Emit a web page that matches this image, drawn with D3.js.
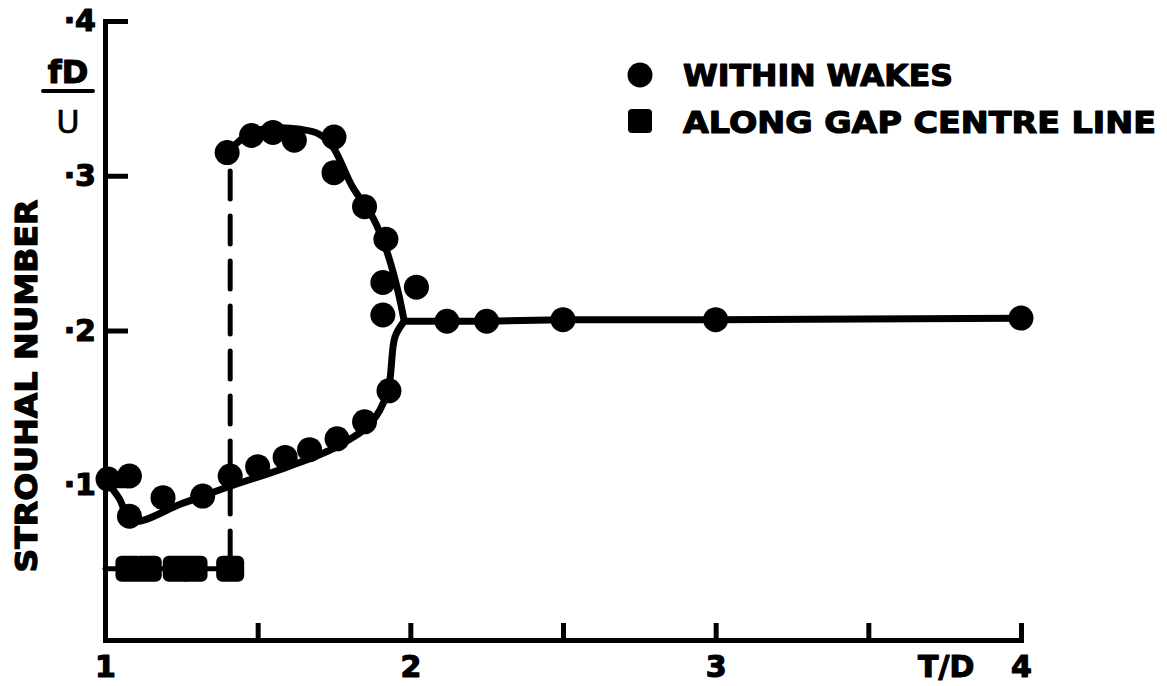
<!DOCTYPE html>
<html>
<head>
<meta charset="utf-8">
<script src="https://cdn.jsdelivr.net/npm/d3@7/dist/d3.min.js"></script>
<style>
  body { margin: 0; background: #fff; }
  svg text { font-family: "DejaVu Sans", sans-serif; font-weight: bold; fill: #000; stroke: #000; stroke-width: 1.2px; stroke-linejoin: round; }
</style>
</head>
<body>
<div id="chart"></div>
<script>
// T/D (x) against Strouhal number fD/U (y)
const xTicks = [1, 1.5, 2, 2.5, 3, 3.5, 4];
const yTicks = [0.1, 0.2, 0.3, 0.4];

// measured points "within wakes" (circles)
const wakeLowerPts = [
  [1.01, 0.104], [1.08, 0.106], [1.08, 0.080], [1.19, 0.092], [1.32, 0.093],
  [1.41, 0.106], [1.50, 0.112], [1.59, 0.118], [1.67, 0.123], [1.76, 0.130],
  [1.85, 0.141], [1.93, 0.161]
];
const wakeUpperPts = [
  [1.40, 0.315], [1.48, 0.326], [1.55, 0.328], [1.62, 0.323], [1.75, 0.325],
  [1.75, 0.302], [1.85, 0.280], [1.92, 0.259], [1.91, 0.231], [1.91, 0.210],
  [2.02, 0.228]
];
const wakeSinglePts = [
  [2.12, 0.206], [2.25, 0.206], [2.50, 0.207], [3.00, 0.207], [4.00, 0.208]
];

// measured points "along gap centre line" (squares)
const gapPts = [
  [1.08, 0.046], [1.14, 0.046], [1.235, 0.046], [1.29, 0.046], [1.41, 0.046]
];

// hand-faired curves through the data
const lowerCurve = [
  [1.00, 0.104], [1.045, 0.092], [1.09, 0.077], [1.25, 0.088], [1.405, 0.099],
  [1.60, 0.112], [1.76, 0.125], [1.87, 0.140], [1.925, 0.160], [1.95, 0.196], [1.98, 0.206]
];
const upperCurve = [
  [1.40, 0.315], [1.48, 0.328], [1.56, 0.331], [1.64, 0.330], [1.70, 0.327],
  [1.745, 0.319], [1.81, 0.293], [1.88, 0.272], [1.925, 0.250], [1.96, 0.225], [1.98, 0.206]
];
const singleLine = [[1.98, 0.206], [2.12, 0.206], [2.25, 0.206], [2.5, 0.207], [3.0, 0.207], [4.0, 0.208]];
const gapDashed = [[1.00, 0.046], [1.41, 0.046], [1.41, 0.315]];

const legendItems = ['WITHIN WAKES', 'ALONG GAP CENTRE LINE'];

const W = 1167, H = 686;
const svg = d3.select('#chart').append('svg').attr('width', W).attr('height', H);

const x = d3.scaleLinear().domain([1, 4]).range([105, 1021]);
const y = d3.scaleLinear().domain([0, 0.4]).range([640, 21]);

// axes
const gx = svg.append('g')
  .attr('transform', `translate(0,${y(0)})`)
  .call(d3.axisBottom(x).tickValues(xTicks).tickSizeInner(-17).tickSizeOuter(0).tickPadding(16)
    .tickFormat(d => Number.isInteger(d) ? d : ''));
const gy = svg.append('g')
  .attr('transform', `translate(${x(1)},0)`)
  .call(d3.axisLeft(y).tickValues(yTicks).tickSizeInner(-23).tickSizeOuter(0).tickPadding(9)
    .tickFormat(d => '\u00B7' + Math.round(d * 10)));

[gx, gy].forEach(g => {
  g.select('.domain').attr('stroke', '#000').attr('stroke-width', 5).attr('stroke-linecap', 'square');
  g.selectAll('.tick line').attr('stroke', '#000').attr('stroke-width', 5);
  g.selectAll('.tick text').attr('font-size', 30).attr('font-family', null);
});

svg.append('text')
  .attr('x', x(3.755)).attr('y', y(0) + 16).attr('dy', '0.71em')
  .attr('text-anchor', 'middle').attr('font-size', 30)
  .text('T/D');

// y title and fD/U
svg.append('text')
  .attr('transform', `translate(37,386) rotate(-90)`)
  .attr('text-anchor', 'middle').attr('font-size', 30)
  .attr('textLength', 373).attr('lengthAdjust', 'spacingAndGlyphs')
  .text('STROUHAL NUMBER');
svg.append('text')
  .attr('x', 68).attr('y', 83).attr('text-anchor', 'middle').attr('font-size', 32)
  .text('fD');
svg.append('line')
  .attr('x1', 43).attr('x2', 93).attr('y1', 91).attr('y2', 91)
  .attr('stroke', '#000').attr('stroke-width', 4).attr('stroke-linecap', 'round');
svg.append('text')
  .attr('x', 68).attr('y', 133).attr('text-anchor', 'middle').attr('font-size', 32)
  .style('font-weight', 'normal').style('stroke-width', '0.6px')
  .text('U');

// lines
const smooth = d3.line().x(d => x(d[0])).y(d => y(d[1])).curve(d3.curveCatmullRom.alpha(0.5));
const straight = d3.line().x(d => x(d[0])).y(d => y(d[1]));

svg.append('path').attr('d', straight(gapDashed))
  .attr('fill', 'none').attr('stroke', '#000').attr('stroke-width', 5)
  .attr('stroke-dasharray', '28,17').attr('stroke-linecap', 'round');

[lowerCurve, upperCurve].forEach(c => {
  svg.append('path').attr('d', smooth(c))
    .attr('fill', 'none').attr('stroke', '#000').attr('stroke-width', 7).attr('stroke-linecap', 'round');
});
svg.append('path').attr('d', straight(singleLine))
  .attr('fill', 'none').attr('stroke', '#000').attr('stroke-width', 7).attr('stroke-linecap', 'round');

// markers
svg.append('g').selectAll('circle')
  .data(wakeLowerPts.concat(wakeUpperPts, wakeSinglePts))
  .join('circle')
  .attr('cx', d => x(d[0])).attr('cy', d => y(d[1])).attr('r', 12.5)
  .attr('fill', '#000');

svg.append('g').selectAll('rect')
  .data(gapPts)
  .join('rect')
  .attr('x', d => x(d[0]) - 14).attr('y', d => y(d[1]) - 13)
  .attr('width', 28).attr('height', 26).attr('rx', 6)
  .attr('fill', '#000');

// legend
const lg = svg.append('g').attr('transform', 'translate(640,75)');
lg.append('circle').attr('r', 12.5).attr('fill', '#000');
lg.append('rect').attr('x', -12).attr('y', 34).attr('width', 24).attr('height', 24).attr('rx', 4).attr('fill', '#000');
lg.selectAll('text.lab')
  .data(legendItems)
  .join('text')
  .attr('class', 'lab')
  .attr('x', 43).attr('y', (d, i) => 11 + i * 47)
  .attr('font-size', 30)
  .attr('textLength', (d, i) => i === 0 ? 270 : 473)
  .attr('lengthAdjust', 'spacingAndGlyphs')
  .text(d => d);
</script>
</body>
</html>
